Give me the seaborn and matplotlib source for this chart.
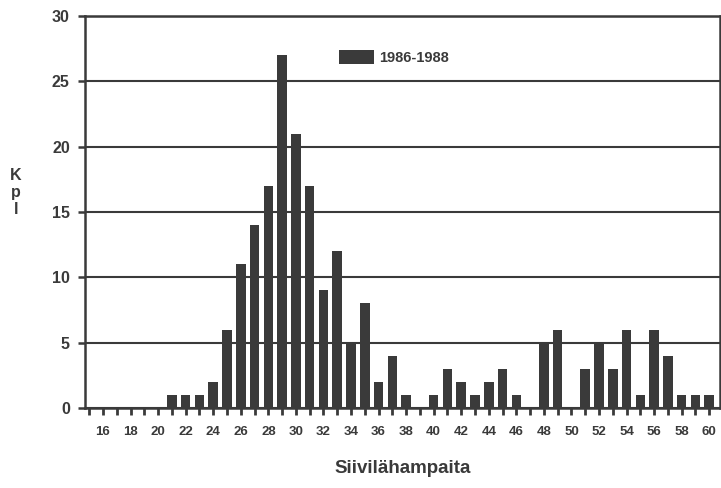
import matplotlib
matplotlib.use("Agg")
import matplotlib.pyplot as plt
import seaborn as sns
import pandas as pd
from matplotlib.ticker import MultipleLocator

# Number of gill rakers (siivilähampaat) and fish counts per class
gill_rakers = list(range(16, 61))
counts = [0, 0, 0, 0, 0, 1, 1, 1, 2, 6,
          11, 14, 17, 27, 21, 17, 9, 12, 5, 8,
          2, 4, 1, 0, 1, 3, 2, 1, 2, 3,
          1, 0, 5, 6, 0, 3, 5, 3, 6, 1,
          6, 4, 1, 1, 1]
series_label = "1986-1988"
x_tick_labels = [str(v) for v in range(16, 61, 2)]
y_ticks = [0, 5, 10, 15, 20, 25, 30]

df = pd.DataFrame({"siivilahampaat": gill_rakers, "kpl": counts})

sns.set_theme(style="white")
plt.rcParams["font.family"] = ["Liberation Sans", "DejaVu Sans"]

ink = "#3a3a3a"
fig = plt.figure(figsize=(7.21, 4.88), dpi=100)
ax = fig.add_axes([0.118, 0.164, 0.880, 0.803])

sns.barplot(data=df, x="siivilahampaat", y="kpl", native_scale=True,
            width=0.70, color=ink, saturation=1, ax=ax, label=series_label,
            edgecolor=ink, linewidth=0)

ax.set_xlim(14.7, 60.75)
ax.set_ylim(0, 30)
ax.set_yticks(y_ticks)
ax.set_yticklabels([str(v) for v in y_ticks], fontsize=11.5, fontweight="bold", color=ink)
ax.set_xticks(list(range(16, 61, 2)))
ax.set_xticklabels(x_tick_labels, fontsize=9.5, fontweight="bold", color=ink)
ax.xaxis.set_minor_locator(MultipleLocator(1))
ax.tick_params(axis="x", which="both", direction="out", length=5, width=2,
               color=ink, bottom=True, pad=8)
ax.tick_params(axis="y", direction="out", length=5, width=1.8, color=ink, left=True, pad=6)

ax.yaxis.grid(True, color=ink, linewidth=1.5)
ax.xaxis.grid(False)
ax.set_axisbelow(True)
for side in ["left", "bottom", "top", "right"]:
    ax.spines[side].set_visible(True)
    ax.spines[side].set_color(ink)
    ax.spines[side].set_linewidth(1.8)

ax.set_xlabel("Siivilähampaita", fontsize=13.5, fontweight="bold", color=ink, labelpad=16)
ax.set_ylabel("")
fig.text(0.022, 0.605, "K\np\nl", fontsize=11.5, fontweight="bold", color=ink,
         ha="center", va="center", linespacing=1.15)

leg = ax.legend(loc="center", bbox_to_anchor=(0.487, 0.895), frameon=False,
                handlelength=2.4, handleheight=1.2, handletextpad=0.35,
                prop={"weight": "bold", "size": 10.5})
for t in leg.get_texts():
    t.set_color(ink)

fig.savefig("out.png", dpi=100)
